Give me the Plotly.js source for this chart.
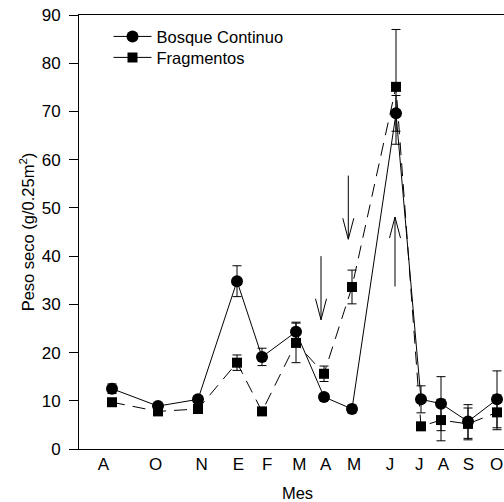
<!DOCTYPE html>
<html>
<head>
<meta charset="utf-8">
<script src="https://cdn.plot.ly/plotly-3.0.1.min.js"></script>
<style>
html, body { margin: 0; padding: 0; overflow: hidden; background: #fff; }
#chart { width: 516px; height: 502px; }
</style>
</head>
<body>
<div id="chart"></div>
<script>
// Sampling positions along the time axis (arbitrary time units)
const sampleX = [33, 79, 119, 158, 183, 217, 245, 273, 317, 342, 362, 389, 418];
// Month tick labels and their positions
const tickLabels = ['A', 'O', 'N', 'E', 'F', 'M', 'A', 'M', 'J', 'J', 'A', 'S', 'O'];
const tickPos = [24.3, 76.7, 122.7, 159.3, 188.3, 220.3, 246.7, 275, 311, 340.3, 364.3, 389.3, 417.7];

// Bosque Continuo: mean dry weight and error
const bosqueY = [12.5, 8.9, 10.3, 34.8, 19.1, 24.3, 10.8, 8.3, 69.6, 10.3, 9.4, 5.7, 10.3];
const bosqueErr = [1.0, 0.5, 0.7, 3.2, 1.8, 2.0, 0.7, 0.8, 3.7, 2.8, 5.6, 3.5, 5.9];

// Fragmentos: mean dry weight and error
const fragY = [9.7, 7.8, 8.3, 17.9, 7.8, 22.0, 15.6, 33.6, 75.1, 4.7, 6.0, 5.2, 7.6];
const fragErr = [0.5, 0.5, 0.6, 1.6, 0.5, 4.1, 1.6, 3.5, 11.9, 0.6, 4.3, 3.3, 3.6];

// Arrows: tip positions (x, y), tail y, and direction (+1 = pointing down, -1 = pointing up)
const arrowX = [242, 269.3, 316];
const arrowTipY = [26.8, 43.5, 48.1];
const arrowTailY = [40.0, 56.7, 33.7];

const fontFam = 'Liberation Sans, Arial, Helvetica, sans-serif';

// layout geometry (style)
const W = 516, H = 502, ML = 79, MR = 0, MT = 15, MB = 52.5;
const xRange = [0, 437], yRange = [0, 90];
const pxPerX = (W - ML - MR) / (xRange[1] - xRange[0]);
const pxPerY = (H - MT - MB) / (yRange[1] - yRange[0]);
const headLenPx = 21, headHalfPx = 5.5;

// build arrow line paths from the arrow arrays
const arrX = [], arrY = [];
for (let i = 0; i < arrowX.length; i++) {
  const dir = arrowTailY[i] > arrowTipY[i] ? 1 : -1; // 1: tail above tip (points down)
  const hx = headHalfPx / pxPerX, hy = dir * headLenPx / pxPerY;
  arrX.push(arrowX[i], arrowX[i], null);
  arrY.push(arrowTailY[i], arrowTipY[i], null);
  arrX.push(arrowX[i] - hx, arrowX[i], arrowX[i] + hx, null);
  arrY.push(arrowTipY[i] + hy, arrowTipY[i], arrowTipY[i] + hy, null);
}

const traces = [
  {
    x: arrX, y: arrY, type: 'scatter', mode: 'lines', showlegend: false,
    line: { color: '#000', width: 1 }, connectgaps: false, hoverinfo: 'skip'
  },
  {
    x: sampleX, y: bosqueY, type: 'scatter', mode: 'lines+markers',
    name: 'Bosque Continuo', showlegend: false,
    line: { color: '#000', width: 1 },
    marker: { symbol: 'circle', size: 12, color: '#000' },
    error_y: { type: 'data', array: bosqueErr, visible: true, color: '#000', thickness: 1, width: 4.5 }
  },
  {
    x: sampleX, y: fragY, type: 'scatter', mode: 'lines+markers',
    name: 'Fragmentos', showlegend: false,
    line: { color: '#000', width: 1, dash: '13px,8px' },
    marker: { symbol: 'square', size: 10, color: '#000' },
    error_y: { type: 'data', array: fragErr, visible: true, color: '#000', thickness: 1, width: 4.5 }
  },
  {
    x: [null], y: [null], type: 'scatter', mode: 'lines+markers',
    name: 'Bosque Continuo', showlegend: true, legend: 'legend',
    line: { color: '#000', width: 1 },
    marker: { symbol: 'circle', size: 12, color: '#000' }
  },
  {
    x: [null], y: [null], type: 'scatter', mode: 'lines+markers',
    name: 'Fragmentos', showlegend: true, legend: 'legend2',
    line: { color: '#000', width: 1 },
    marker: { symbol: 'square', size: 10, color: '#000' }
  }
];

const legendFont = { family: fontFam, size: 16.5, color: '#000' };
const legendBase = {
  xanchor: 'left', yanchor: 'top', bgcolor: 'rgba(0,0,0,0)', borderwidth: 0,
  font: legendFont, itemwidth: 38
};

const layout = {
  width: W, height: H,
  margin: { l: ML, r: MR, t: MT, b: MB },
  paper_bgcolor: '#fff', plot_bgcolor: '#fff',
  font: { family: fontFam, size: 16, color: '#000' },
  showlegend: true,
  legend: Object.assign({}, legendBase, { x: 0.0675, y: 0.9903 }),
  legend2: Object.assign({}, legendBase, { x: 0.0675, y: 0.942 }),
  xaxis: {
    range: xRange, showgrid: false, zeroline: false,
    showline: true, linecolor: '#000', linewidth: 1, mirror: true,
    ticks: '', tickmode: 'array', tickvals: tickPos, ticktext: tickLabels,
    tickfont: { family: fontFam, size: 17, color: '#000' },
    ticklabelstandoff: 0,
    title: { text: 'Mes', font: { family: fontFam, size: 16.5, color: '#000' }, standoff: 20 }
  },
  yaxis: {
    range: yRange, showgrid: false, zeroline: false,
    showline: true, linecolor: '#000', linewidth: 1, mirror: true,
    ticks: 'outside', ticklen: 9, tickwidth: 1, tickcolor: '#000',
    tickvals: [0, 10, 20, 30, 40, 50, 60, 70, 80, 90],
    tickfont: { family: fontFam, size: 17, color: '#000' },
    ticklabelstandoff: 5,
    title: { text: 'Peso seco (g/0.25m<sup>2</sup>)', font: { family: fontFam, size: 16.5, color: '#000' }, standoff: 2 }
  }
};

Plotly.newPlot('chart', traces, layout, { displayModeBar: false, staticPlot: true });
</script>
</body>
</html>
